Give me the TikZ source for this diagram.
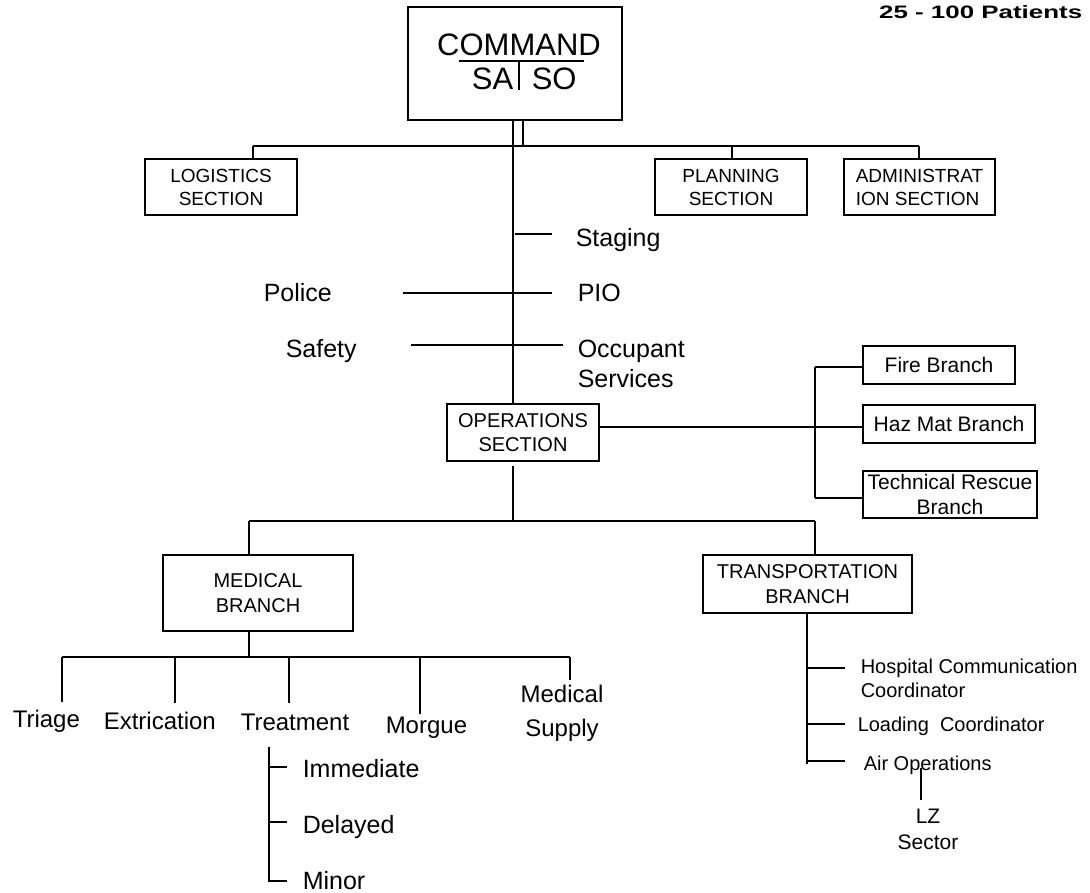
\documentclass[tikz,border=0pt]{standalone}
\usepackage{fontspec}
\setmainfont{Liberation Sans}
\newcommand{\fsz}[2]{\fontsize{#1}{#2}\selectfont}
\begin{document}
\begin{tikzpicture}[x=1pt,y=-1pt,line width=1.5pt,
  every node/.style={inner sep=0pt},
  box/.style={draw,line width=1.5pt,align=center},
  sect/.style={box,font=\fsz{19}{23}},
  brbox/.style={box,font=\fsz{20}{25}},
  firebox/.style={box,font=\fsz{21}{25}},
  lbl/.style={font=\fsz{25}{30},align=left},
  sub/.style={font=\fsz{24}{34},align=center},
  tr/.style={font=\fsz{20}{24},align=left}]
\useasboundingbox (0,0) rectangle (1090,893);

% title
\node[anchor=base east,font=\bfseries\fsz{18}{18}] (pat) at (1083,19) {\scalebox{1.44}[1]{25 - 100 Patients}};

% command box
\node[box,minimum width=214,minimum height=113] (cmd) at (515,63.5) {};
\node[anchor=base,font=\fsz{31}{31}] (cmdt) at (519,56) {COMMAND};
\coordinate (cl) at (459,61); \coordinate (cr) at (584,61);
\draw (cl) -- (cr);
\node[anchor=base east,font=\fsz{31}{31}] (sa) at (514,90) {SA};
\node[anchor=base west,font=\fsz{31}{31}] (so) at (531,90) {SO};
\coordinate (bar1) at (519,61); \coordinate (bar2) at (519,90);
\draw (bar1) -- (bar2);

% sections
\node[sect,minimum width=152,minimum height=56] (log) at (221,187) {LOGISTICS\\SECTION};
\node[sect,minimum width=152,minimum height=56] (plan) at (731,187) {PLANNING\\SECTION};
\node[sect,minimum width=151,minimum height=56,align=left] (adm) at (919.5,187) {ADMINISTRAT\\ION SECTION};
\node[box,font=\fsz{20}{24},minimum width=152,minimum height=57] (ops) at (523,432.5) {OPERATIONS\hspace{10pt}\\SECTION\hspace{10pt}};

\node[firebox,minimum width=152,minimum height=38] (fire) at (939,365) {Fire Branch};
\node[firebox,minimum width=172,minimum height=38] (haz) at (949,424) {Haz Mat Branch};
\node[firebox,minimum width=174,minimum height=47] (tech) at (950,494.5) {Technical Rescue\\Branch};

\node[brbox,minimum width=190,minimum height=76] (med) at (258,593) {MEDICAL\\BRANCH};
\node[brbox,minimum width=209,minimum height=58] (tran) at (807.5,584) {TRANSPORTATION\hspace{8pt}\\BRANCH\hspace{8pt}};

% command connectors
\coordinate (vA) at (513,120);
\coordinate (vB) at (523,120); \coordinate (vBb) at (523,146);
\coordinate (busL) at (253,146); \coordinate (busP) at (732,146); \coordinate (busR) at (919,146);
\draw (vA) -- (vA |- ops.north);
\draw (vB) -- (vBb);
\draw (busL) -- (busR);
\draw (busL) -- (busL |- log.north);
\draw (busP) -- (busP |- plan.north);
\draw (busR) -- (busR |- adm.north);

% staff labels
\coordinate (stg1) at (515,234); \coordinate (stg2) at (552,234);
\draw (stg1) -- (stg2);
\node[lbl,anchor=base west] (stg) at (575,247) {Staging};
\coordinate (pol1) at (403,293); \coordinate (pio1) at (552,293);
\draw (pol1) -- (pio1);
\node[lbl,anchor=base west] (pol) at (263,302) {Police};
\node[lbl,anchor=base west] (pio) at (577,302) {PIO};
\coordinate (saf1) at (411,345); \coordinate (occ1) at (563,345);
\draw (saf1) -- (occ1);
\node[lbl,anchor=base west] (saf) at (285,358) {Safety};
\node[lbl,anchor=base west] (occ) at (577,388) {Occupant\\Services};

% operations right
\coordinate (rb1) at (815,367); \coordinate (rb2) at (815,427); \coordinate (rb3) at (815,498);
\draw (rb2 -| ops.east) -- (rb2);
\draw (rb1) -- (rb3);
\draw (rb1) -- (rb1 -| fire.west);
\draw (rb2) -- (rb2 -| haz.west);
\draw (rb3) -- (rb3 -| tech.west);

% operations bottom
\coordinate (ob1) at (513,466); \coordinate (ob2) at (513,521);
\coordinate (bb1) at (249,521); \coordinate (bb2) at (815,521);
\draw (ob1) -- (ob2);
\draw (bb1) -- (bb2);
\draw (bb1) -- (bb1 |- med.north);
\draw (bb2) -- (bb2 |- tran.north);

% medical groups
\coordinate (mb) at (249,657);
\draw (bb1 |- med.south) -- (mb);
\coordinate (d1) at (62,657); \coordinate (d2) at (175,657); \coordinate (d3) at (289,657);
\coordinate (d4) at (420,657); \coordinate (d5) at (570,657);
\coordinate (e1) at (62,702); \coordinate (e2) at (175,703); \coordinate (e3) at (289,703);
\coordinate (e4) at (420,714); \coordinate (e5) at (570,680);
\draw (d1) -- (d5);
\draw (d1) -- (e1); \draw (d2) -- (e2); \draw (d3) -- (e3); \draw (d4) -- (e4); \draw (d5) -- (e5);
\node[sub,anchor=base west] (tri) at (12,727) {Triage};
\node[sub,anchor=base west] (ext) at (103,729) {Extrication};
\node[sub,anchor=base west] (trt) at (240,730) {Treatment};
\node[sub,anchor=base west] (mor) at (385,733) {Morgue};
\node[sub,anchor=base] (msup) at (562,736) {Medical\\Supply};

% treatment sub
\coordinate (t0) at (269,747); \coordinate (t1) at (269,767); \coordinate (t2) at (269,822); \coordinate (t3) at (269,881);
\coordinate (u1) at (287,767); \coordinate (u2) at (287,822); \coordinate (u3) at (287,881);
\draw (t0) -- (t3) -- (u3);
\draw (t1) -- (u1); \draw (t2) -- (u2);
\node[lbl,anchor=base west] (imm) at (302,777) {Immediate};
\node[lbl,anchor=base west] (del) at (302,833) {Delayed};
\node[lbl,anchor=base west] (min) at (302,889) {Minor};

% transportation sub
\coordinate (tr4) at (807,764);
\coordinate (h1) at (807,668); \coordinate (h2) at (845,668);
\coordinate (l1) at (807,724); \coordinate (l2) at (845,724);
\coordinate (a1) at (807,761); \coordinate (a2) at (845,761);
\draw (tran.south -| tr4) -- (tr4);
\draw (h1) -- (h2); \draw (l1) -- (l2); \draw (a1) -- (a2);
\node[tr,anchor=base west] (hosp) at (860,697) {Hospital Communication\\Coordinator};
\node[tr,anchor=base west] (load) at (857,731) {Loading\ \ Coordinator};
\node[tr,anchor=base west] (air) at (863,770) {Air Operations};
\coordinate (lz1) at (921,768); \coordinate (lz2) at (921,800);
\draw (lz1) -- (lz2);
\node[font=\fsz{21}{26},align=center,anchor=base] (lz) at (928,849) {LZ\\Sector};
\end{tikzpicture}
\end{document}
